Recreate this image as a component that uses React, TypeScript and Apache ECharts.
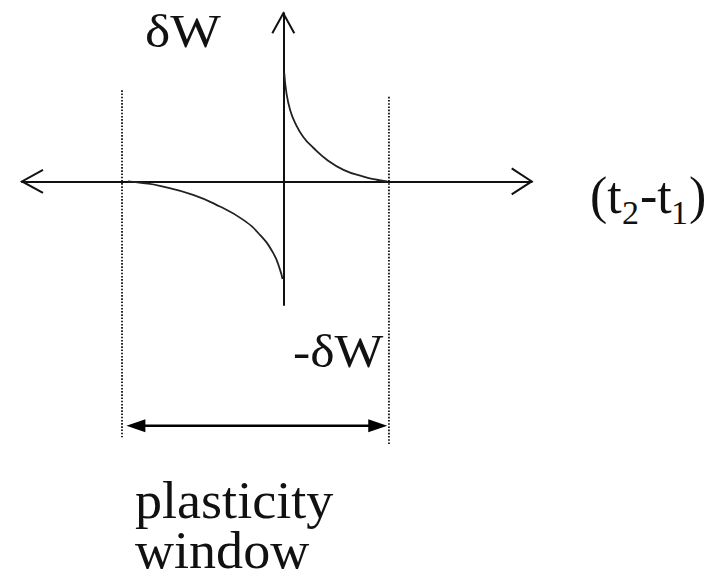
import React, { useEffect, useRef } from "react";
import * as echarts from "echarts";

// Potentiation branch (t2 - t1 > 0)
const ltpTime = [0.006, 0.02, 0.042, 0.073, 0.124, 0.186, 0.27, 0.373, 0.497, 0.58, 0.645];
const ltpWeight = [1.0, 0.81, 0.66, 0.54, 0.41, 0.31, 0.2, 0.106, 0.044, 0.015, 0];
// Depression branch (t2 - t1 < 0)
const ltdTime = [-0.963, -0.87, -0.766, -0.559, -0.393, -0.248, -0.145, -0.062, -0.02, -0.005];
const ltdWeight = [0, -0.015, -0.041, -0.124, -0.232, -0.355, -0.493, -0.662, -0.816, -0.9];
// Plasticity window edges (x values)
const windowEdges = [-1.0, 0.655];
const dottedTop = [0.84, 0.78];
const dottedBottom = [-2.36, -2.43];
const windowArrowLevel = -2.253;
// Axis extents
const xRange = [-1.62, 1.54];
const yRange = [-1.14, 1.55];
// Texts
const yLabel = "δW";
const yNegLabel = "-δW";
const windowLabel = ["plasticity", "window"];

const SERIF = "'Liberation Serif', 'Times New Roman', Times, serif";
const INK = "#111";

export default function App() {
  const ref = useRef<HTMLDivElement>(null);
  useEffect(() => {
    if (!ref.current) return;
    const chart = echarts.init(ref.current, null, { renderer: "svg" });
    const axisLineStyle = { color: "#111", width: 2 };
    chart.setOption({
      animation: false,
      backgroundColor: "#ffffff",
      grid: { left: 22, right: 185.3, top: 13.3, bottom: 279, containLabel: false },
      xAxis: {
        type: "value",
        min: xRange[0],
        max: xRange[1],
        axisLine: { show: true, onZero: true, lineStyle: axisLineStyle },
        axisTick: { show: false },
        axisLabel: { show: false },
        splitLine: { show: false },
      },
      yAxis: {
        type: "value",
        min: yRange[0],
        max: yRange[1],
        axisLine: { show: true, onZero: true, lineStyle: axisLineStyle },
        axisTick: { show: false },
        axisLabel: { show: false },
        splitLine: { show: false },
      },
      series: [
        {
          type: "line",
          name: "LTP",
          data: ltpTime.map((t, i) => [t, ltpWeight[i]]),
          showSymbol: false,
          smooth: true,
          lineStyle: { color: "#222", width: 1.8 },
          z: 3,
        },
        {
          type: "line",
          name: "LTD",
          data: ltdTime.map((t, i) => [t, ltdWeight[i]]),
          showSymbol: false,
          smooth: true,
          lineStyle: { color: "#222", width: 1.8 },
          z: 3,
        },
      ],
    });

    const P = (x: number, y: number) => chart.convertToPixel({ gridIndex: 0 }, [x, y]) as number[];
    const [ox, oy] = P(0, 0);
    const lx = P(xRange[0], 0)[0];
    const rx = P(xRange[1], 0)[0];
    const ty = P(0, yRange[1])[1];

    const chevron = { stroke: "#111", lineWidth: 2, fill: null };
    const graphics: any[] = [
      { type: "polyline", shape: { points: [[lx + 21, oy - 11.5], [lx, oy], [lx + 21, oy + 11.5]] }, style: chevron, z: 10 },
      { type: "polyline", shape: { points: [[rx - 20, oy - 13], [rx, oy], [rx - 20, oy + 13]] }, style: chevron, z: 10 },
      { type: "polyline", shape: { points: [[ox - 11, ty + 20], [ox, ty], [ox + 11, ty + 20]] }, style: chevron, z: 10 },
    ];
    windowEdges.forEach((e, i) => {
      const a = P(e, dottedTop[i]);
      const b = P(e, dottedBottom[i]);
      graphics.push({
        type: "line",
        shape: { x1: a[0], y1: a[1], x2: b[0], y2: b[1] },
        style: { stroke: "#111", lineWidth: 1.8, lineDash: [1.6, 1.6] },
        z: 5,
      });
    });
    const pl = P(windowEdges[0], windowArrowLevel);
    const pr = P(windowEdges[1], windowArrowLevel);
    const tipL = pl[0] + 4.4;
    const tipR = pr[0] - 1.7;
    const ay = pl[1];
    graphics.push(
      { type: "line", shape: { x1: tipL + 8, y1: ay, x2: tipR - 8, y2: ay }, style: { stroke: "#000", lineWidth: 2.6 }, z: 6 },
      { type: "polygon", shape: { points: [[tipL, ay], [tipL + 19, ay - 6.5], [tipL + 19, ay + 6.5]] }, style: { fill: "#000" }, z: 6 },
      { type: "polygon", shape: { points: [[tipR, ay], [tipR - 19, ay - 6.5], [tipR - 19, ay + 6.5]] }, style: { fill: "#000" }, z: 6 }
    );

    const txt = (text: string, x: number, cy: number, size: number, sx = 1, extra: any = {}) => ({
      type: "text",
      x,
      y: cy,
      scaleX: sx,
      style: { text, fill: INK, fontFamily: SERIF, fontSize: size, align: "left", verticalAlign: "middle", ...extra },
      z: 8,
    });
    graphics.push(
      txt(yLabel, 145, 31.4, 47, 1.14),
      txt(yNegLabel, 293, 351.4, 47, 1.1),
      txt(windowLabel.join("\n"), 135, 525.3, 52, 1.04, { lineHeight: 50 }),
      txt("(t", 590, 195.5, 52),
      txt("2", 622, 212.5, 34),
      txt("-t", 640, 195.5, 52),
      txt("1", 671, 212.5, 34),
      txt(")", 689, 195.5, 52)
    );
    chart.setOption({ graphic: graphics });

    return () => chart.dispose();
  }, []);
  return (
    <div
      ref={ref}
      style={{ position: "absolute", left: 0, top: 0, width: 717, height: 584 }}
    />
  );
}
